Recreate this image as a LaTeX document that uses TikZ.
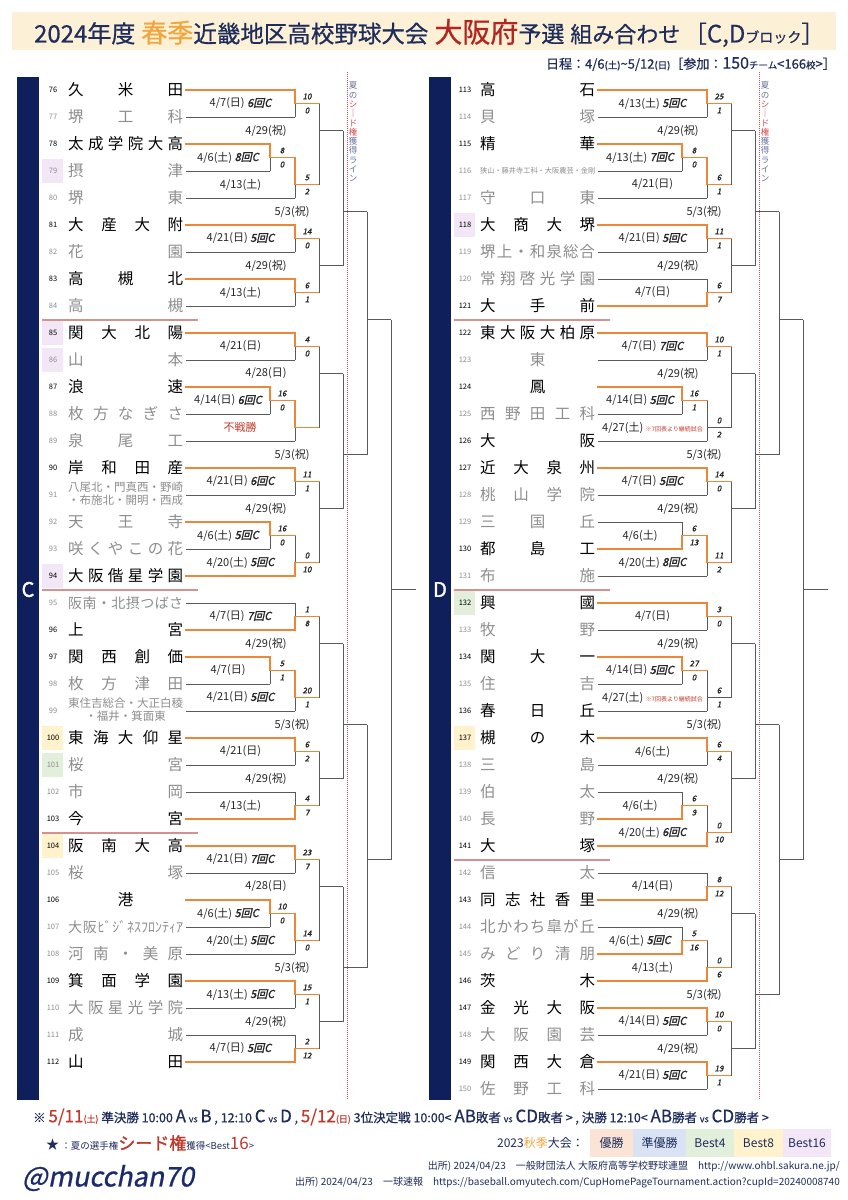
\documentclass[tikz,border=0pt]{standalone}
\usepackage{fontspec}
\setmainfont{Noto Sans CJK JP}
\newfontfamily\scorefont{Noto Sans CJK JP}[FakeSlant=0.22,FakeBold=1.6]
\newfontfamily\handlefont{Noto Sans CJK JP}[FakeSlant=0.2,FakeBold=0.8]
\newfontfamily\heavyfont{Noto Sans CJK JP}[FakeBold=1.5]
\newfontfamily\midfont{Noto Sans CJK JP}[FakeBold=0.6]
\usetikzlibrary{positioning}
\definecolor{bknavy}{HTML}{0F1F5C}
\definecolor{titlenavy}{HTML}{1F2D5C}
\definecolor{handlenavy}{HTML}{1A2A6A}
\definecolor{bkorange}{HTML}{EC873A}
\definecolor{bkgray}{HTML}{5A5A5A}
\definecolor{losertext}{HTML}{8E8E8E}
\definecolor{seppink}{HTML}{D4918F}
\definecolor{seedred}{HTML}{E0474C}
\definecolor{slate}{HTML}{6A7399}
\definecolor{band}{HTML}{FCF0D6}
\definecolor{spring}{HTML}{F2A53A}
\definecolor{osaka}{HTML}{B3261E}
\definecolor{fred}{HTML}{C0392B}
\definecolor{cwin}{HTML}{FBE4D5}
\definecolor{crun}{HTML}{DAE3F3}
\definecolor{cb4}{HTML}{E2EFDA}
\definecolor{cb8}{HTML}{FFF2CC}
\definecolor{cb16}{HTML}{F3E6F7}
\tikzset{
  win/.style={draw=bkorange, line width=1.7pt, line cap=rect},
  lose/.style={draw=bkgray, line width=0.9pt},
  tnum/.style={font=\fontsize{7.5}{8}\selectfont, inner sep=0pt},
  tname/.style={anchor=west, inner sep=0pt, font=\fontsize{15.5}{16}\selectfont},
  alive/.style={text=black},
  gone/.style={text=losertext},
  datelbl/.style={font=\fontsize{11}{11}\selectfont, inner sep=0pt, text=black!85},
  scorelbl/.style={font=\scorefont\fontsize{8}{8}\selectfont, inner sep=0pt, text=black!85},
  sepline/.style={draw=seppink, line width=2pt},
  seedline/.style={draw=seedred, line width=1pt, dash pattern=on 1pt off 1pt},
  seedtext/.style={font=\fontsize{8.5}{9.3}\selectfont, align=center, anchor=north, text=slate, inner sep=0pt},
  blockletter/.style={font=\heavyfont\fontsize{20}{20}\selectfont, text=white, inner sep=0pt},
  fusen/.style={font=\fontsize{11}{11}\selectfont, text=fred, inner sep=0pt},
  legbox/.style={minimum height=28pt, inner sep=0pt, font=\fontsize{12}{12}\selectfont, text=titlenavy}
}
\makeatletter
\newcommand\spreadname[1]{\makebox[115pt][s]{\spr@first#1\@nil}}
\def\spr@first#1{#1\spr@next}
\def\spr@next#1{\ifx\@nil#1\else\hfil#1\expandafter\spr@next\fi}
\makeatother
\newcommand\centername[1]{\makebox[115pt][c]{#1}}
\newcommand\twoline[3]{\makebox[115pt][#1]{\fontsize{11.5}{12}\selectfont\def\arraystretch{1.1}\begin{tabular}{@{}#1@{}}#2\\#3\end{tabular}}}
\newcommand\fsm[1]{{\fontsize{9}{9}\selectfont #1}}
\newcommand\fbig[1]{{\fontsize{17}{17}\selectfont #1}}
\newcommand\rc[1]{{\scorefont #1}}
\newcommand\contnote{{\color{fred}\fontsize{6}{6}\selectfont ※7回表より継続試合}}
\newcount\lbno
\newcommand\nextlb{\global\advance\lbno by 1\relax}
% team number + name
\newcommand\team[5][]{%
  \ifx\relax#1\relax\else\fill[#1] (42,#2-0.45) rectangle (63,#2+0.45);\fi
  \node[tnum,#4] (n#3) at (53,#2) {#3};
  \node[tname,#4] (t#3) at (68,#2) {#5};}
% line from a team name to its first vertical
\newcommand\tl[4]{\draw[#4] ([xshift=2.5pt]t#1.east) -- (#3,#2);}
% one game: vertical x, top y, bottom y, output y, winner 0/1/2, next x
\newcommand\bk[6]{%
  \ifcase#5\relax
    \draw[lose] (#1,#2) -- (#1,#3);
    \draw[lose] (#1,#4) -- (#6,#4);
  \or
    \draw[lose] (#1,#4) -- (#1,#3);
    \draw[win] (#1,#2) -- (#1,#4) -- (#6,#4);
  \or
    \draw[lose] (#1,#2) -- (#1,#4);
    \draw[win] (#1,#3) -- (#1,#4) -- (#6,#4);
  \fi}
\newcommand\sco[4]{\nextlb
  \node[scorelbl, yshift=7pt] (sa\the\lbno) at (#1+12,#2) {#3};
  \node[scorelbl, yshift=-7pt] (sb\the\lbno) at (#1+12,#2) {#4};}
\newcommand\dl[3]{\nextlb\node[datelbl] (d\the\lbno) at (#1,#2) {#3};}

\begin{document}
\begin{tikzpicture}[x=1pt, y=-1pt]
\useasboundingbox (0,0) rectangle (848,1200);
\fill[white] (0,0) rectangle (848,1200);

% header
\fill[band] (12,12) rectangle (836,50);
\node[inner sep=0pt, text=titlenavy, font=\midfont\fontsize{23.5}{24}\selectfont] (title) at (429.5,33)
  {{\fontsize{24}{24}\selectfont 2024年度}\hspace{6pt}{\color{spring}\fontsize{26}{26}\selectfont 春季}近畿地区高校野球大会\hspace{6pt}{\color{osaka}\fontsize{28}{28}\selectfont 大阪府}{\fontsize{23}{23}\selectfont 予選}\hspace{6pt}{\fontsize{22}{22}\selectfont 組み合わせ}\hspace{3pt}［{\fontsize{24}{24}\selectfont C,D}{\fontsize{14}{14}\selectfont ブロック}］};
\node[anchor=east, inner sep=0pt, text=titlenavy, font=\midfont\fontsize{13}{13}\selectfont] (sched) at (836,64)
  {日程：4/6{\fontsize{9.5}{9.5}\selectfont(土)}\textasciitilde 5/12{\fontsize{9.5}{9.5}\selectfont(日)}［参加：{\fontsize{16}{16}\selectfont 150}{\fontsize{9.5}{9.5}\selectfont チーム}<166{\fontsize{9.5}{9.5}\selectfont 校}>］};

% ---------------- C block ----------------
\begin{scope}[yshift=-90pt, y=-27pt]
\fill[bknavy] (17,-0.48) rectangle (39,37.4);
\node[blockletter] (blkC) at (28,18.5) {C};
\draw[seedline] (347,-0.67) -- (347,37.4);
\node[seedtext] (seedC) at (353,-0.3) {夏\\の\\{\color{seedred}シ}\\{\color{seedred}｜}\\{\color{seedred}ド}\\{\color{seedred}権}\\獲\\得\\ラ\\イ\\ン};
\draw[sepline] (42,8.5) -- (198,8.5);
\draw[sepline] (42,18.5) -- (198,18.5);
\draw[sepline] (42,27.5) -- (198,27.5);

\team{0}{76}{alive}{\spreadname{久米田}}
\team{1}{77}{gone}{\spreadname{堺工科}}
\team{2}{78}{alive}{\spreadname{太成学院大高}}
\team[cb16]{3}{79}{gone}{\spreadname{摂津}}
\team{4}{80}{gone}{\spreadname{堺東}}
\team{5}{81}{alive}{\spreadname{大産大附}}
\team{6}{82}{gone}{\spreadname{花園}}
\team{7}{83}{alive}{\spreadname{高槻北}}
\team{8}{84}{gone}{\spreadname{高槻}}
\team[cb16]{9}{85}{alive}{\spreadname{関大北陽}}
\team[cb16]{10}{86}{gone}{\spreadname{山本}}
\team{11}{87}{alive}{\spreadname{浪速}}
\team{12}{88}{gone}{\spreadname{枚方なぎさ}}
\team{13}{89}{gone}{\spreadname{泉尾工}}
\team{14}{90}{alive}{\spreadname{岸和田産}}
\team{15}{91}{gone}{\twoline{r}{八尾北・門真西・野崎}{・布施北・開明・西成}}
\team{16}{92}{gone}{\spreadname{天王寺}}
\team{17}{93}{gone}{\spreadname{咲くやこの花}}
\team[cb16]{18}{94}{alive}{\spreadname{大阪偕星学園}}
\team{19}{95}{gone}{{\fontsize{14}{14}\selectfont\spreadname{阪南・北摂つばさ}}}
\team{20}{96}{alive}{\spreadname{上宮}}
\team{21}{97}{alive}{\spreadname{関西創価}}
\team{22}{98}{gone}{\spreadname{枚方津田}}
\team{23}{99}{gone}{\twoline{c}{東住吉総合・大正白稜}{・福井・箕面東}}
\team[cb8]{24}{100}{alive}{\spreadname{東海大仰星}}
\team[cb4]{25}{101}{gone}{\spreadname{桜宮}}
\team{26}{102}{gone}{\spreadname{市岡}}
\team{27}{103}{alive}{\spreadname{今宮}}
\team[cb8]{28}{104}{alive}{\spreadname{阪南大高}}
\team{29}{105}{gone}{\spreadname{桜塚}}
\team{30}{106}{alive}{\centername{港}}
\team{31}{107}{gone}{{\fontsize{14}{14}\selectfont\makebox[115pt][s]{大\hfil 阪\hfil ﾋﾞ\hfil ｼﾞ\hfil ﾈｽﾌﾛﾝﾃｨｱ}}}
\team{32}{108}{gone}{\spreadname{河南・美原}}
\team{33}{109}{alive}{\spreadname{箕面学園}}
\team{34}{110}{gone}{\spreadname{大阪星光学院}}
\team{35}{111}{gone}{\spreadname{成城}}
\team{36}{112}{alive}{\spreadname{山田}}

\tl{76}{0}{295}{win} \tl{77}{1}{295}{lose}
\tl{78}{2}{270}{win} \tl{79}{3}{270}{lose} \tl{80}{4}{295}{lose}
\tl{81}{5}{295}{win} \tl{82}{6}{295}{lose}
\tl{83}{7}{295}{win} \tl{84}{8}{295}{lose}
\tl{85}{9}{295}{win} \tl{86}{10}{295}{lose}
\tl{87}{11}{270}{win} \tl{88}{12}{270}{lose} \tl{89}{13}{295}{lose}
\tl{90}{14}{295}{win} \tl{91}{15}{295}{lose}
\tl{92}{16}{270}{win} \tl{93}{17}{270}{lose} \tl{94}{18}{295}{win}
\tl{95}{19}{295}{lose} \tl{96}{20}{295}{win}
\tl{97}{21}{270}{win} \tl{98}{22}{270}{lose} \tl{99}{23}{295}{lose}
\tl{100}{24}{295}{win} \tl{101}{25}{295}{lose}
\tl{102}{26}{295}{lose} \tl{103}{27}{295}{win}
\tl{104}{28}{295}{win} \tl{105}{29}{295}{lose}
\tl{106}{30}{270}{win} \tl{107}{31}{270}{lose} \tl{108}{32}{295}{lose}
\tl{109}{33}{295}{win} \tl{110}{34}{295}{lose}
\tl{111}{35}{295}{lose} \tl{112}{36}{295}{win}

\bk{295}{0}{1}{0.5}{1}{319} \sco{295}{0.5}{10}{0} \dl{240.5}{0.5}{4/7(日) \rc{6回C}}
\bk{270}{2}{3}{2.5}{1}{295} \sco{270}{2.5}{8}{0} \dl{228}{2.5}{4/6(土) \rc{8回C}}
\bk{295}{2.5}{4}{3.5}{1}{319} \sco{295}{3.5}{5}{2} \dl{240.5}{3.5}{4/13(土)}
\bk{319}{0.5}{3.5}{1.5}{0}{343} \dl{266}{1.5}{4/29(祝)}
\bk{295}{5}{6}{5.5}{1}{319} \sco{295}{5.5}{14}{0} \dl{240.5}{5.5}{4/21(日) \rc{5回C}}
\bk{295}{7}{8}{7.5}{1}{319} \sco{295}{7.5}{6}{1} \dl{240.5}{7.5}{4/13(土)}
\bk{319}{5.5}{7.5}{6.5}{0}{343} \dl{266}{6.5}{4/29(祝)}
\bk{343}{1.5}{6.5}{4.5}{0}{367} \dl{292}{4.5}{5/3(祝)}

\bk{295}{9}{10}{9.5}{1}{319} \sco{295}{9.5}{4}{0} \dl{240.5}{9.5}{4/21(日)}
\bk{270}{11}{12}{11.5}{1}{295} \sco{270}{11.5}{16}{0} \dl{228}{11.5}{4/14(日) \rc{6回C}}
\bk{295}{11.5}{13}{12.5}{1}{319} \node[fusen] (walkover) at (240,12.5) {不戦勝};
\bk{319}{9.5}{12.5}{10.5}{0}{343} \dl{266}{10.5}{4/28(日)}
\bk{295}{14}{15}{14.5}{1}{319} \sco{295}{14.5}{11}{1} \dl{240.5}{14.5}{4/21(日) \rc{6回C}}
\bk{270}{16}{17}{16.5}{1}{295} \sco{270}{16.5}{16}{0} \dl{228}{16.5}{4/6(土) \rc{5回C}}
\bk{295}{16.5}{18}{17.5}{2}{319} \sco{295}{17.5}{0}{10} \dl{240.5}{17.5}{4/20(土) \rc{5回C}}
\bk{319}{14.5}{17.5}{15.5}{0}{343} \dl{266}{15.5}{4/29(祝)}
\bk{343}{10.5}{15.5}{13.5}{0}{367} \dl{292}{13.5}{5/3(祝)}
\bk{367}{4.5}{13.5}{8.5}{0}{391}

\bk{295}{19}{20}{19.5}{2}{319} \sco{295}{19.5}{1}{8} \dl{240.5}{19.5}{4/7(日) \rc{7回C}}
\bk{270}{21}{22}{21.5}{1}{295} \sco{270}{21.5}{5}{1} \dl{228}{21.5}{4/7(日)}
\bk{295}{21.5}{23}{22.5}{1}{319} \sco{295}{22.5}{20}{1} \dl{240.5}{22.5}{4/21(日) \rc{5回C}}
\bk{319}{19.5}{22.5}{20.5}{0}{343} \dl{266}{20.5}{4/29(祝)}
\bk{295}{24}{25}{24.5}{1}{319} \sco{295}{24.5}{6}{2} \dl{240.5}{24.5}{4/21(日)}
\bk{295}{26}{27}{26.5}{2}{319} \sco{295}{26.5}{4}{7} \dl{240.5}{26.5}{4/13(土)}
\bk{319}{24.5}{26.5}{25.5}{0}{343} \dl{266}{25.5}{4/29(祝)}
\bk{343}{20.5}{25.5}{23.5}{0}{367} \dl{292}{23.5}{5/3(祝)}

\bk{295}{28}{29}{28.5}{1}{319} \sco{295}{28.5}{23}{7} \dl{240.5}{28.5}{4/21(日) \rc{7回C}}
\bk{270}{30}{31}{30.5}{1}{295} \sco{270}{30.5}{10}{0} \dl{228}{30.5}{4/6(土) \rc{5回C}}
\bk{295}{30.5}{32}{31.5}{1}{319} \sco{295}{31.5}{14}{0} \dl{240.5}{31.5}{4/20(土) \rc{5回C}}
\bk{319}{28.5}{31.5}{29.5}{0}{343} \dl{266}{29.5}{4/28(日)}
\bk{295}{33}{34}{33.5}{1}{319} \sco{295}{33.5}{15}{1} \dl{240.5}{33.5}{4/13(土) \rc{5回C}}
\bk{295}{35}{36}{35.5}{2}{319} \sco{295}{35.5}{2}{12} \dl{240.5}{35.5}{4/7(日) \rc{5回C}}
\bk{319}{33.5}{35.5}{34.5}{0}{343} \dl{266}{34.5}{4/29(祝)}
\bk{343}{29.5}{34.5}{32.5}{0}{367} \dl{292}{32.5}{5/3(祝)}
\bk{367}{23.5}{32.5}{28.5}{0}{391}
\bk{391}{8.5}{28.5}{18.5}{0}{416}
\end{scope}

% ---------------- D block ----------------
\begin{scope}[xshift=412pt, yshift=-90pt, y=-27pt]
\fill[bknavy] (17,-0.48) rectangle (39,37.4);
\node[blockletter] (blkD) at (28,18.5) {D};
\draw[seedline] (347,-0.67) -- (347,37.4);
\node[seedtext] (seedD) at (353,-0.3) {夏\\の\\{\color{seedred}シ}\\{\color{seedred}｜}\\{\color{seedred}ド}\\{\color{seedred}権}\\獲\\得\\ラ\\イ\\ン};
\draw[sepline] (42,8.5) -- (198,8.5);
\draw[sepline] (42,18.5) -- (198,18.5);
\draw[sepline] (42,28.5) -- (198,28.5);

\team{0}{113}{alive}{\spreadname{高石}}
\team{1}{114}{gone}{\spreadname{貝塚}}
\team{2}{115}{alive}{\spreadname{精華}}
\team{3}{116}{gone}{\centername{\fontsize{7.2}{8}\selectfont 狭山・藤井寺工科・大阪農芸・金剛}}
\team{4}{117}{gone}{\spreadname{守口東}}
\team[cb16]{5}{118}{alive}{\spreadname{大商大堺}}
\team{6}{119}{gone}{\spreadname{堺上・和泉総合}}
\team{7}{120}{gone}{\spreadname{常翔啓光学園}}
\team{8}{121}{alive}{\spreadname{大手前}}
\team{9}{122}{alive}{\spreadname{東大阪大柏原}}
\team{10}{123}{gone}{\centername{東}}
\team{11}{124}{alive}{\centername{鳳}}
\team{12}{125}{gone}{\spreadname{西野田工科}}
\team{13}{126}{alive}{\spreadname{大阪}}
\team{14}{127}{alive}{\spreadname{近大泉州}}
\team{15}{128}{gone}{\spreadname{桃山学院}}
\team{16}{129}{gone}{\spreadname{三国丘}}
\team{17}{130}{alive}{\spreadname{都島工}}
\team{18}{131}{gone}{\spreadname{布施}}
\team[cb4]{19}{132}{alive}{\spreadname{興國}}
\team{20}{133}{gone}{\spreadname{牧野}}
\team{21}{134}{alive}{\spreadname{関大一}}
\team{22}{135}{gone}{\spreadname{住吉}}
\team{23}{136}{alive}{\spreadname{春日丘}}
\team[cb8]{24}{137}{alive}{\spreadname{槻の木}}
\team{25}{138}{gone}{\spreadname{三島}}
\team{26}{139}{gone}{\spreadname{伯太}}
\team{27}{140}{gone}{\spreadname{長野}}
\team{28}{141}{alive}{\spreadname{大塚}}
\team{29}{142}{gone}{\spreadname{信太}}
\team{30}{143}{alive}{\spreadname{同志社香里}}
\team{31}{144}{gone}{\spreadname{北かわち皐が丘}}
\team{32}{145}{gone}{\spreadname{みどり清朋}}
\team{33}{146}{alive}{\spreadname{茨木}}
\team{34}{147}{alive}{\spreadname{金光大阪}}
\team{35}{148}{gone}{\spreadname{大阪園芸}}
\team{36}{149}{alive}{\spreadname{関西大倉}}
\team{37}{150}{gone}{\spreadname{佐野工科}}

\tl{113}{0}{295}{win} \tl{114}{1}{295}{lose}
\tl{115}{2}{270}{win} \tl{116}{3}{270}{lose} \tl{117}{4}{295}{lose}
\tl{118}{5}{295}{win} \tl{119}{6}{295}{lose}
\tl{120}{7}{295}{lose} \tl{121}{8}{295}{win}
\tl{122}{9}{295}{win} \tl{123}{10}{295}{lose}
\tl{124}{11}{270}{win} \tl{125}{12}{270}{lose} \tl{126}{13}{295}{lose}
\tl{127}{14}{295}{win} \tl{128}{15}{295}{lose}
\tl{129}{16}{270}{lose} \tl{130}{17}{270}{win} \tl{131}{18}{295}{lose}
\tl{132}{19}{295}{win} \tl{133}{20}{295}{lose}
\tl{134}{21}{270}{win} \tl{135}{22}{270}{lose} \tl{136}{23}{295}{lose}
\tl{137}{24}{295}{win} \tl{138}{25}{295}{lose}
\tl{139}{26}{270}{lose} \tl{140}{27}{270}{win} \tl{141}{28}{295}{win}
\tl{142}{29}{295}{lose} \tl{143}{30}{295}{win}
\tl{144}{31}{270}{lose} \tl{145}{32}{270}{win} \tl{146}{33}{295}{win}
\tl{147}{34}{295}{win} \tl{148}{35}{295}{lose}
\tl{149}{36}{295}{win} \tl{150}{37}{295}{lose}

\bk{295}{0}{1}{0.5}{1}{319} \sco{295}{0.5}{25}{1} \dl{240.5}{0.5}{4/13(土) \rc{5回C}}
\bk{270}{2}{3}{2.5}{1}{295} \sco{270}{2.5}{8}{0} \dl{228}{2.5}{4/13(土) \rc{7回C}}
\bk{295}{2.5}{4}{3.5}{1}{319} \sco{295}{3.5}{6}{1} \dl{240.5}{3.5}{4/21(日)}
\bk{319}{0.5}{3.5}{1.5}{0}{343} \dl{266}{1.5}{4/29(祝)}
\bk{295}{5}{6}{5.5}{1}{319} \sco{295}{5.5}{11}{1} \dl{240.5}{5.5}{4/21(日) \rc{5回C}}
\bk{295}{7}{8}{7.5}{2}{319} \sco{295}{7.5}{6}{7} \dl{240.5}{7.5}{4/7(日)}
\bk{319}{5.5}{7.5}{6.5}{0}{343} \dl{266}{6.5}{4/29(祝)}
\bk{343}{1.5}{6.5}{4.5}{0}{367} \dl{292}{4.5}{5/3(祝)}

\bk{295}{9}{10}{9.5}{1}{319} \sco{295}{9.5}{10}{1} \dl{240.5}{9.5}{4/7(日) \rc{7回C}}
\bk{270}{11}{12}{11.5}{1}{295} \sco{270}{11.5}{16}{1} \dl{228}{11.5}{4/14(日) \rc{5回C}}
\bk{295}{11.5}{13}{12.5}{0}{319} \sco{295}{12.5}{0}{2}
\node[datelbl, anchor=west] (cont1) at (190,12.5) {4/27(土) \contnote};
\bk{319}{9.5}{12.5}{10.5}{0}{343} \dl{266}{10.5}{4/29(祝)}
\bk{295}{14}{15}{14.5}{1}{319} \sco{295}{14.5}{14}{0} \dl{240.5}{14.5}{4/7(日) \rc{5回C}}
\bk{270}{16}{17}{16.5}{2}{295} \sco{270}{16.5}{6}{13} \dl{228}{16.5}{4/6(土)}
\bk{295}{16.5}{18}{17.5}{1}{319} \sco{295}{17.5}{11}{2} \dl{240.5}{17.5}{4/20(土) \rc{8回C}}
\bk{319}{14.5}{17.5}{15.5}{0}{343} \dl{266}{15.5}{4/29(祝)}
\bk{343}{10.5}{15.5}{13.5}{0}{367} \dl{292}{13.5}{5/3(祝)}
\bk{367}{4.5}{13.5}{8.5}{0}{391}

\bk{295}{19}{20}{19.5}{1}{319} \sco{295}{19.5}{3}{0} \dl{240.5}{19.5}{4/7(日)}
\bk{270}{21}{22}{21.5}{1}{295} \sco{270}{21.5}{27}{0} \dl{228}{21.5}{4/14(日) \rc{5回C}}
\bk{295}{21.5}{23}{22.5}{0}{319} \sco{295}{22.5}{6}{1}
\node[datelbl, anchor=west] (cont2) at (190,22.5) {4/27(土) \contnote};
\bk{319}{19.5}{22.5}{20.5}{0}{343} \dl{266}{20.5}{4/29(祝)}
\bk{295}{24}{25}{24.5}{1}{319} \sco{295}{24.5}{6}{4} \dl{240.5}{24.5}{4/6(土)}
\bk{270}{26}{27}{26.5}{2}{295} \sco{270}{26.5}{6}{9} \dl{228}{26.5}{4/6(土)}
\bk{295}{26.5}{28}{27.5}{2}{319} \sco{295}{27.5}{0}{10} \dl{240.5}{27.5}{4/20(土) \rc{6回C}}
\bk{319}{24.5}{27.5}{25.5}{0}{343} \dl{266}{25.5}{4/29(祝)}
\bk{343}{20.5}{25.5}{23.5}{0}{367} \dl{292}{23.5}{5/3(祝)}

\bk{295}{29}{30}{29.5}{2}{319} \sco{295}{29.5}{8}{12} \dl{240.5}{29.5}{4/14(日)}
\bk{270}{31}{32}{31.5}{2}{295} \sco{270}{31.5}{5}{16} \dl{228}{31.5}{4/6(土) \rc{5回C}}
\bk{295}{31.5}{33}{32.5}{2}{319} \sco{295}{32.5}{0}{6} \dl{240.5}{32.5}{4/13(土)}
\bk{319}{29.5}{32.5}{30.5}{0}{343} \dl{266}{30.5}{4/29(祝)}
\bk{295}{34}{35}{34.5}{1}{319} \sco{295}{34.5}{10}{0} \dl{240.5}{34.5}{4/14(日) \rc{5回C}}
\bk{295}{36}{37}{36.5}{1}{319} \sco{295}{36.5}{19}{1} \dl{240.5}{36.5}{4/21(日) \rc{5回C}}
\bk{319}{34.5}{36.5}{35.5}{0}{343} \dl{266}{35.5}{4/29(祝)}
\bk{343}{30.5}{35.5}{33.5}{0}{367} \dl{292}{33.5}{5/3(祝)}
\bk{367}{23.5}{33.5}{28.5}{0}{391}
\bk{391}{8.5}{28.5}{18.5}{0}{416}
\end{scope}

% footer
\node[anchor=west, inner sep=0pt, text=titlenavy, font=\midfont\fontsize{12.5}{13}\selectfont] (finals) at (33,1117)
  {※ {\color{fred}\fbig{5/11}\fsm{(土)}} 準決勝 10:00 \fbig{A} \fsm{vs} \fbig{B} , 12:10 \fbig{C} \fsm{vs} \fbig{D} , {\color{fred}\fbig{5/12}\fsm{(日)}} 3位決定戦 10:00< \fbig{AB}敗者 \fsm{vs} \fbig{CD}敗者 > , 決勝 12:10< \fbig{AB}勝者 \fsm{vs} \fbig{CD}勝者 >};
\node[anchor=west, inner sep=0pt, text=titlenavy, font=\fontsize{13}{13}\selectfont] (seedkey) at (46,1143)
  {★\,{\fontsize{9.5}{9.5}\selectfont ：夏の選手権}{\color{fred}\heavyfont\fontsize{17}{17}\selectfont シード権}{\fontsize{9.5}{9.5}\selectfont 獲得<Best}{\color{fred}\fontsize{17}{17}\selectfont 16}{\fontsize{9.5}{9.5}\selectfont >}};
\node[anchor=east, inner sep=0pt, text=titlenavy, font=\fontsize{12}{12}\selectfont] (autumn) at (584,1143) {2023{\color{spring}秋季}大会：};
\node[legbox, fill=cwin, minimum width=43pt] (lgwin) at (611.5,1143) {優勝};
\node[legbox, fill=crun, minimum width=53pt] (lgrun) at (659.5,1143) {準優勝};
\node[legbox, fill=cb4, minimum width=48pt] (lgb4) at (710,1143) {Best4};
\node[legbox, fill=cb8, minimum width=49pt] (lgb8) at (758.5,1143) {Best8};
\node[legbox, fill=cb16, minimum width=48pt] (lgb16) at (807,1143) {Best16};
\node[anchor=west, inner sep=0pt, text=handlenavy, font=\handlefont\fontsize{27}{27}\selectfont] (handle) at (22,1178) {@mucchan70};
\node[anchor=east, inner sep=0pt, text=titlenavy, font=\fontsize{10}{10}\selectfont] (src1) at (840,1166)
  {出所) 2024/04/23\quad 一般財団法人 大阪府高等学校野球連盟\quad http://www.ohbl.sakura.ne.jp/};
\node[anchor=east, inner sep=0pt, text=titlenavy, font=\fontsize{10}{10}\selectfont] (src2) at (840,1183)
  {出所) 2024/04/23\quad 一球速報\quad https://baseball.omyutech.com/CupHomePageTournament.action?cupId=20240008740};
\end{tikzpicture}
\end{document}
